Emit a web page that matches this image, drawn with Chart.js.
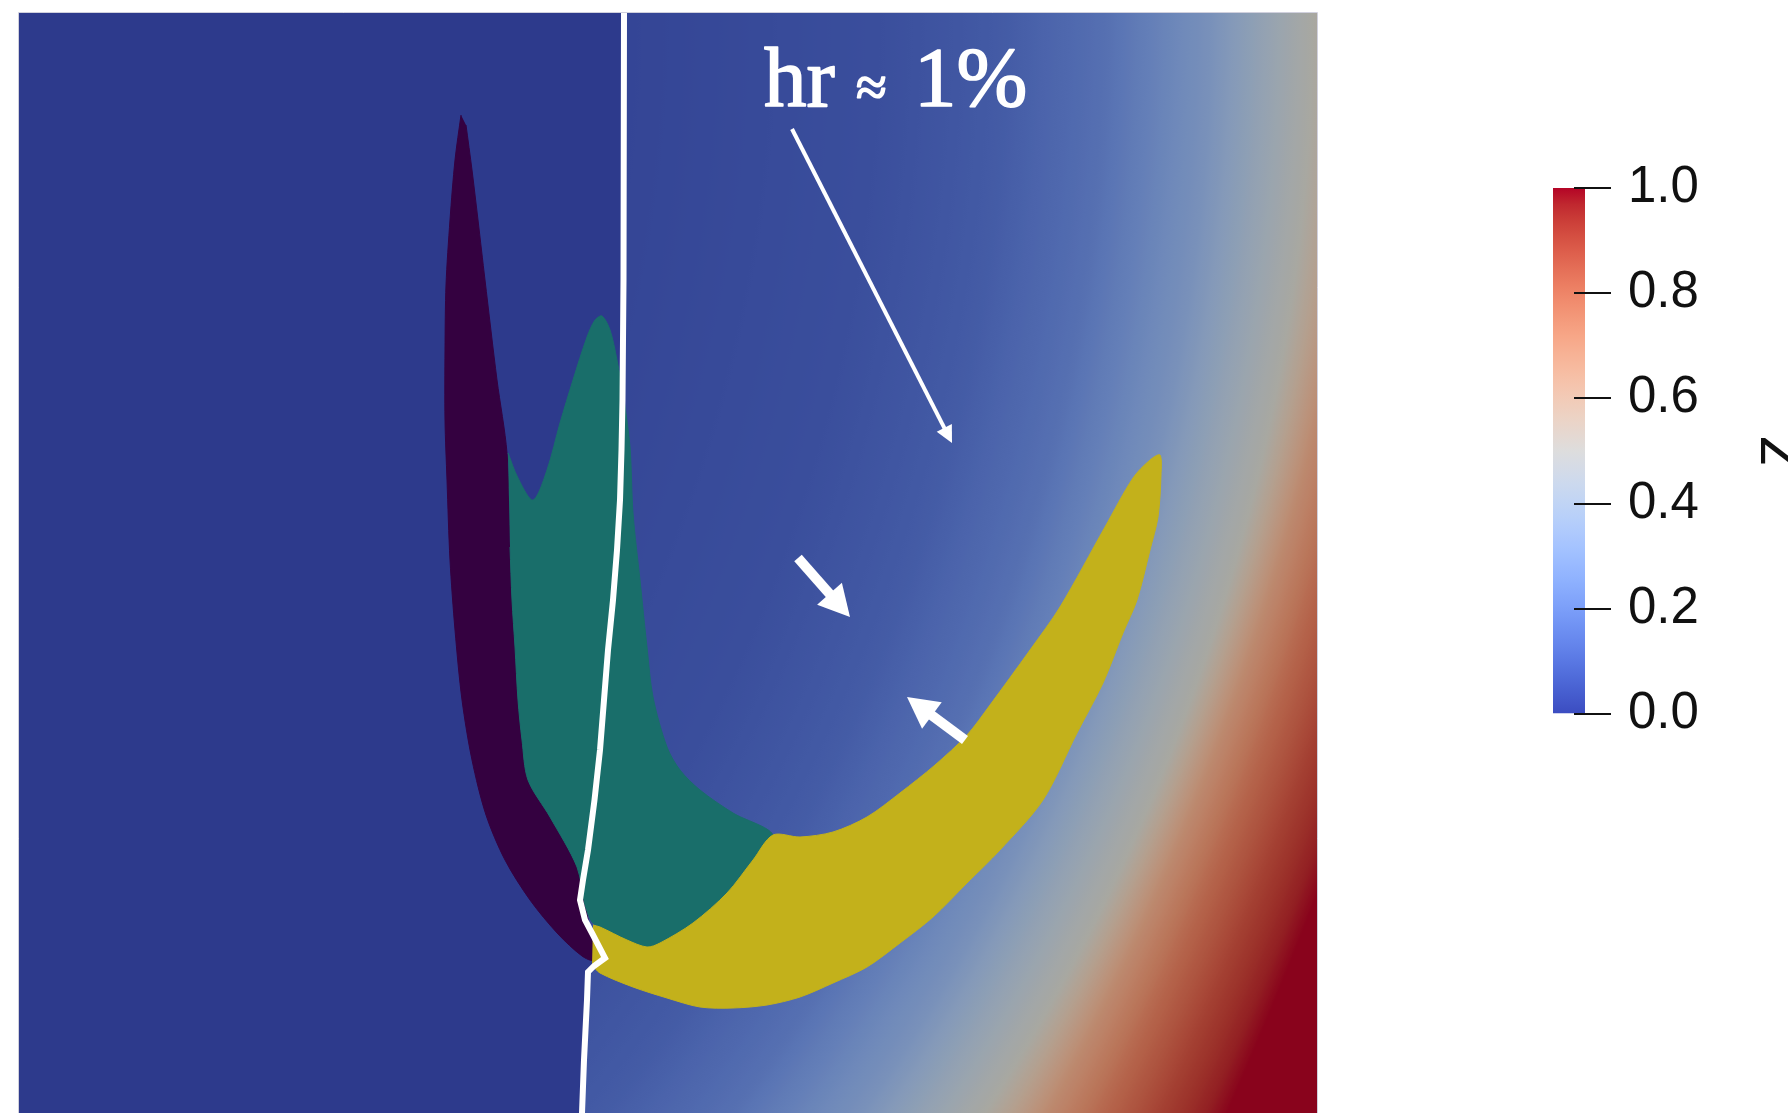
<!DOCTYPE html>
<html>
<head>
<meta charset="utf-8">
<script src="https://cdn.jsdelivr.net/npm/chart.js@4.4.1/dist/chart.umd.min.js"></script>
<style>
  html, body { margin: 0; padding: 0; background: #fff; overflow: hidden; width: 1788px; height: 1113px; }
  canvas { position: absolute; top: 0; }
  #section { left: 0; }
  #colorbar { left: 1500px; }
</style>
</head>
<body>
<canvas id="section" width="1500" height="1113"></canvas>
<canvas id="colorbar" width="288" height="1113"></canvas>
<script>
// ---- Section extent (length units, origin bottom-left) ----
const domainX = [0, 12.98];
const domainY = [0, 11.0];

// ---- Interface trace (white curve), top to bottom ----
const traceX = [6.05, 6.045, 6.035, 6.025, 6.01, 5.98, 5.94, 5.89, 5.85, 5.81, 5.755, 5.69, 5.64, 5.61,
                5.66, 5.74, 5.86, 5.75, 5.69, 5.68, 5.65, 5.63];
const traceY = [11.00, 8.33, 7.13, 6.63, 6.13, 5.63, 5.13, 4.63, 4.13, 3.63, 3.13, 2.63, 2.33, 2.13,
                1.93, 1.78, 1.55, 1.47, 1.41, 1.13, 0.53, 0.00];

// ---- Phase regions (closed outlines) ----
const phase1X = [4.42, 4.36, 4.31, 4.27, 4.26, 4.26, 4.28, 4.31, 4.36, 4.43, 4.53, 4.67, 4.86, 5.11, 5.39, 5.63, 5.74, 5.73,
                 5.66, 5.58, 5.31, 5.09, 5.03, 4.99, 4.96, 4.93, 4.91, 4.88, 4.78, 4.66, 4.59, 4.53, 4.47];
const phase1Y = [9.98, 9.53, 8.93, 8.28, 7.63, 6.93, 6.33, 5.53, 4.83, 4.13, 3.53, 2.98, 2.53, 2.13, 1.79, 1.57, 1.53, 1.73,
                 2.08, 2.46, 2.96, 3.33, 3.73, 4.13, 4.66, 5.13, 5.66, 6.60, 7.33, 8.33, 8.93, 9.43, 9.88];

const phase2X = [4.89, 4.99, 5.14, 5.28, 5.41, 5.54, 5.68, 5.76, 5.83, 5.91, 5.98, 6.05, 6.11, 6.14, 6.21, 6.28, 6.34, 6.48, 6.61, 6.81,
                 7.14, 7.54, 7.34, 7.08, 6.74, 6.41, 6.28, 6.08, 5.81, 5.73, 5.66, 5.58, 5.31, 5.09, 5.03, 4.99, 4.96, 4.93, 4.91];
const phase2Y = [6.60, 6.35, 6.13, 6.43, 6.90, 7.33, 7.76, 7.93, 7.97, 7.83, 7.53, 7.13, 6.66, 6.00, 5.33, 4.66, 4.16, 3.66, 3.43, 3.23,
                 3.00, 2.78, 2.53, 2.20, 1.90, 1.70, 1.66, 1.73, 1.86, 1.91, 2.08, 2.46, 2.96, 3.33, 3.73, 4.13, 4.66, 5.13, 5.66];

const phase3X = [5.74, 5.81, 6.08, 6.28, 6.41, 6.74, 7.08, 7.34, 7.54, 7.81, 8.14, 8.48, 8.81, 9.16, 9.48, 9.71, 10.11, 10.41, 10.86, 11.14,
                 11.31, 11.41, 11.42, 11.39, 11.31, 11.18, 11.04, 10.84, 10.58, 10.24, 9.81, 9.48, 9.14, 8.81, 8.48, 8.14, 7.81, 7.48, 7.14, 6.81,
                 6.48, 6.14, 5.81, 5.73];
const phase3Y = [1.88, 1.86, 1.73, 1.66, 1.70, 1.90, 2.20, 2.53, 2.78, 2.76, 2.81, 2.96, 3.20, 3.48, 3.78, 4.08, 4.63, 5.06, 5.86, 6.35,
                 6.53, 6.58, 6.38, 5.96, 5.63, 5.13, 4.80, 4.30, 3.80, 3.13, 2.63, 2.30, 1.96, 1.70, 1.46, 1.30, 1.16, 1.08, 1.05, 1.06,
                 1.15, 1.26, 1.40, 1.48];

// ---- z field east of the interface ----
// lower range: concentric contours, radius from fieldOrigin at which each level is reached
const fieldOrigin = [-7.36, 11.07];
const levelRadius = [13.11, 15.96, 17.22, 18.24, 19.27, 20.30];
const levelZ      = [0.03, 0.06, 0.10, 0.17, 0.30, 0.50];
// upper range: contour circles drifting from the z = 0.5 circle (first) to the outermost circle (last);
// upperStep is the fraction of that drift at which each upper level is reached
const upperOrigin = [[-7.36, 11.07], [-36.43, 21.27]];
const upperRadius = [20.30, 52.97];
const upperStep   = [0, 0.22, 0.45, 0.70, 1.0];
const upperZ      = [0.50, 0.68, 0.80, 0.90, 1.00];

// ---- Colour bar ticks ----
const zTicks = [0.0, 0.2, 0.4, 0.6, 0.8, 1.0];

// ---- Annotations ----
const noteParts = ['hr', '\u2248', '1%'];
const noteX = [7.45, 8.37, 8.95];
const noteY = 10.07;
const arrowTailX = [7.73, 7.79, 9.46];
const arrowTailY = [9.84, 5.55, 3.73];
const arrowTipX  = [9.33, 8.31, 8.88];
const arrowTipY  = [6.70, 4.96, 4.16];

// ---- Styling ----
const COOLWARM = [[59,76,192],[68,90,204],[77,104,215],[87,117,225],[98,130,234],[108,142,241],[119,154,247],[130,165,251],
  [141,176,254],[152,185,255],[163,194,255],[174,201,253],[184,208,249],[194,213,244],[204,217,238],[213,219,230],[221,221,221],
  [229,216,209],[236,211,197],[241,204,185],[245,196,173],[247,187,160],[247,177,148],[247,166,135],[244,154,123],[241,141,111],
  [236,127,99],[229,112,88],[222,96,77],[213,80,66],[203,62,56],[192,40,47],[180,4,38]];
const SHADE = [0.76, 0.76, 0.73];
const phaseColors = ['#340140', '#196e6a', '#c3b11b'];
const arrowStyle = [
  { shaft: 4, head: 17, width: 17 },
  { shaft: 10, head: 31, width: 33 },
  { shaft: 10, head: 31, width: 33 }
];
const sansFont = '"Liberation Sans", Arial, sans-serif';
const serifFont = '"Liberation Serif", "Times New Roman", serif';

function coolwarm(z) {
  z = Math.min(1, Math.max(0, z));
  const f = z * (COOLWARM.length - 1);
  const i = Math.min(COOLWARM.length - 2, Math.floor(f));
  const t = f - i;
  const a = COOLWARM[i], b = COOLWARM[i + 1];
  return a.map((v, k) => v + (b[k] - v) * t);
}
function shade(c) { return c.map((v, k) => v * SHADE[k]); }
function rgb(c) { return 'rgb(' + c.map(v => Math.round(v)).join(',') + ')'; }
function piecewise(xs, ys, v) {
  if (v <= xs[0]) return ys[0];
  for (let i = 1; i < xs.length; i++) {
    if (v <= xs[i]) {
      const t = (v - xs[i - 1]) / (xs[i] - xs[i - 1]);
      return ys[i - 1] + t * (ys[i] - ys[i - 1]);
    }
  }
  return ys[ys.length - 1];
}
const toPoints = (xs, ys) => xs.map((x, i) => ({ x, y: ys[i] }));

// Background z field: uniform west of the trace, ramp east of it
const fieldPlugin = {
  id: 'zField',
  beforeDatasetsDraw(chart) {
    const { ctx, chartArea: a, scales: { x, y } } = chart;
    const px = v => x.getPixelForValue(v), py = v => y.getPixelForValue(v);
    const plen = d => px(d) - px(0);
    ctx.save();
    ctx.beginPath();
    ctx.rect(a.left, a.top, a.width, a.height);
    ctx.clip();
    ctx.fillStyle = rgb(shade(coolwarm(0)));
    ctx.fillRect(a.left, a.top, a.width, a.height);

    // east of the trace
    ctx.beginPath();
    traceX.forEach((v, i) => {
      if (i) ctx.lineTo(px(v), py(traceY[i])); else ctx.moveTo(px(v), py(traceY[i]));
    });
    ctx.lineTo(a.right + 5, a.bottom + 5);
    ctx.lineTo(a.right + 5, a.top - 5);
    ctx.closePath();
    ctx.clip();

    const cx = px(fieldOrigin[0]), cy = py(fieldOrigin[1]);
    const rData = levelRadius[levelRadius.length - 1];
    const g = ctx.createRadialGradient(cx, cy, 0, cx, cy, plen(rData));
    const N = 300;
    for (let i = 0; i <= N; i++) {
      g.addColorStop(i / N, rgb(shade(coolwarm(piecewise(levelRadius, levelZ, rData * i / N)))));
    }
    ctx.fillStyle = g;
    ctx.fillRect(a.left, a.top, a.width, a.height);

    // upper range, outside the z = 0.5 circle
    const x0 = px(upperOrigin[0][0]), y0 = py(upperOrigin[0][1]), r0 = plen(upperRadius[0]);
    const x1 = px(upperOrigin[1][0]), y1 = py(upperOrigin[1][1]), r1 = plen(upperRadius[1]);
    ctx.beginPath();
    ctx.rect(a.left - 5, a.top - 5, a.width + 10, a.height + 10);
    ctx.arc(x0, y0, r0, 0, Math.PI * 2, true);
    ctx.clip('evenodd');
    const g2 = ctx.createRadialGradient(x0, y0, r0, x1, y1, r1);
    const M = 160;
    for (let i = 0; i <= M; i++) {
      g2.addColorStop(i / M, rgb(shade(coolwarm(piecewise(upperStep, upperZ, i / M)))));
    }
    ctx.fillStyle = g2;
    ctx.fillRect(a.left, a.top, a.width, a.height);
    ctx.restore();
  }
};

// Arrows, label and frame
const notesPlugin = {
  id: 'notes',
  afterDatasetsDraw(chart) {
    const { ctx, chartArea: a, scales: { x, y } } = chart;
    ctx.save();
    ctx.fillStyle = '#ffffff';
    ctx.strokeStyle = '#ffffff';
    arrowTailX.forEach((tx, i) => {
      const x0 = x.getPixelForValue(tx), y0 = y.getPixelForValue(arrowTailY[i]);
      const x1 = x.getPixelForValue(arrowTipX[i]), y1 = y.getPixelForValue(arrowTipY[i]);
      const s = arrowStyle[i];
      const L = Math.hypot(x1 - x0, y1 - y0), ux = (x1 - x0) / L, uy = (y1 - y0) / L;
      const bx = x1 - ux * s.head, by = y1 - uy * s.head;
      ctx.lineWidth = s.shaft;
      ctx.lineCap = 'butt';
      ctx.beginPath();
      ctx.moveTo(x0, y0);
      ctx.lineTo(bx + ux * 2, by + uy * 2);
      ctx.stroke();
      ctx.beginPath();
      ctx.moveTo(x1, y1);
      ctx.lineTo(bx - uy * s.width / 2, by + ux * s.width / 2);
      ctx.lineTo(bx + uy * s.width / 2, by - ux * s.width / 2);
      ctx.closePath();
      ctx.fill();
    });

    ctx.textBaseline = 'alphabetic';
    ctx.textAlign = 'left';
    ctx.lineWidth = 1.6;
    ctx.lineJoin = 'round';
    const sizes = [85, 56, 85];
    noteParts.forEach((t, i) => {
      ctx.font = sizes[i] + 'px ' + serifFont;
      const tx = x.getPixelForValue(noteX[i]), ty = y.getPixelForValue(noteY);
      ctx.fillText(t, tx, ty);
      ctx.strokeText(t, tx, ty);
    });

    ctx.lineWidth = 1;
    ctx.strokeStyle = 'rgba(200,200,215,0.85)';
    ctx.strokeRect(a.left - 0.5, a.top - 0.5, a.width + 1, a.height + 1);
    ctx.restore();
  }
};

new Chart(document.getElementById('section'), {
  type: 'line',
  data: {
    datasets: [
      { label: 'interface', data: toPoints(traceX, traceY), borderColor: '#ffffff', borderWidth: 6,
        borderJoinStyle: 'miter', fill: false, tension: 0, order: 0 },
      { label: 'phase 3', data: toPoints(phase3X, phase3Y), borderColor: phaseColors[2], backgroundColor: phaseColors[2],
        borderWidth: 1, fill: 'shape', tension: 0.3, order: 1 },
      { label: 'phase 2', data: toPoints(phase2X, phase2Y), borderColor: phaseColors[1], backgroundColor: phaseColors[1],
        borderWidth: 1, fill: 'shape', tension: 0.3, order: 2 },
      { label: 'phase 1', data: toPoints(phase1X, phase1Y), borderColor: phaseColors[0], backgroundColor: phaseColors[0],
        borderWidth: 1, fill: 'shape', tension: 0.3, order: 3 }
    ]
  },
  options: {
    responsive: false,
    animation: false,
    devicePixelRatio: 1,
    layout: { padding: { left: 19, top: 13, right: 183, bottom: 0 } },
    elements: { point: { radius: 0, hoverRadius: 0 } },
    scales: {
      x: { type: 'linear', min: domainX[0], max: domainX[1], display: false },
      y: { type: 'linear', min: domainY[0], max: domainY[1], display: false }
    },
    plugins: { legend: { display: false }, tooltip: { enabled: false } },
    events: []
  },
  plugins: [fieldPlugin, notesPlugin]
});

// Colour bar: tick marks reach into the bar
const innerTicks = {
  id: 'innerTicks',
  afterDraw(chart) {
    const { ctx, chartArea: a, scales: { y } } = chart;
    ctx.save();
    ctx.strokeStyle = '#111';
    ctx.lineWidth = 2;
    y.ticks.forEach(t => {
      const py = Math.round(y.getPixelForValue(t.value));
      ctx.beginPath();
      ctx.moveTo(a.right - 11, py);
      ctx.lineTo(a.right, py);
      ctx.stroke();
    });
    ctx.restore();
  }
};

new Chart(document.getElementById('colorbar'), {
  type: 'bar',
  data: {
    labels: ['z'],
    datasets: [{
      data: [[zTicks[0], zTicks[zTicks.length - 1]]],
      backgroundColor(c) {
        const chart = c.chart;
        if (!chart.chartArea) return COOLWARM[0];
        const ys = chart.scales.y;
        const g = chart.ctx.createLinearGradient(0, ys.getPixelForValue(0), 0, ys.getPixelForValue(1));
        COOLWARM.forEach((col, i) => g.addColorStop(i / (COOLWARM.length - 1), rgb(col)));
        return g;
      },
      borderWidth: 0,
      barPercentage: 1,
      categoryPercentage: 1
    }]
  },
  options: {
    responsive: false,
    animation: false,
    devicePixelRatio: 1,
    layout: { padding: { left: 53, top: 188, bottom: 399, right: 0 } },
    scales: {
      x: { display: false },
      y: {
        position: 'right',
        min: 0, max: 1,
        afterFit(scale) { scale.width = 203; },
        afterBuildTicks(scale) { scale.ticks = zTicks.map(v => ({ value: v })); },
        ticks: {
          autoSkip: false, padding: 17, color: '#111',
          font: { family: sansFont, size: 51 },
          callback: v => Number(v).toFixed(1)
        },
        grid: { drawOnChartArea: false, tickLength: 26, color: '#111', lineWidth: 2 },
        border: { display: false },
        title: { display: true, text: 'z', color: '#111', padding: 0,
                 font: { family: sansFont, size: 62, lineHeight: 0.32 } }
      }
    },
    plugins: { legend: { display: false }, tooltip: { enabled: false } },
    events: []
  },
  plugins: [innerTicks]
});
</script>
</body>
</html>
